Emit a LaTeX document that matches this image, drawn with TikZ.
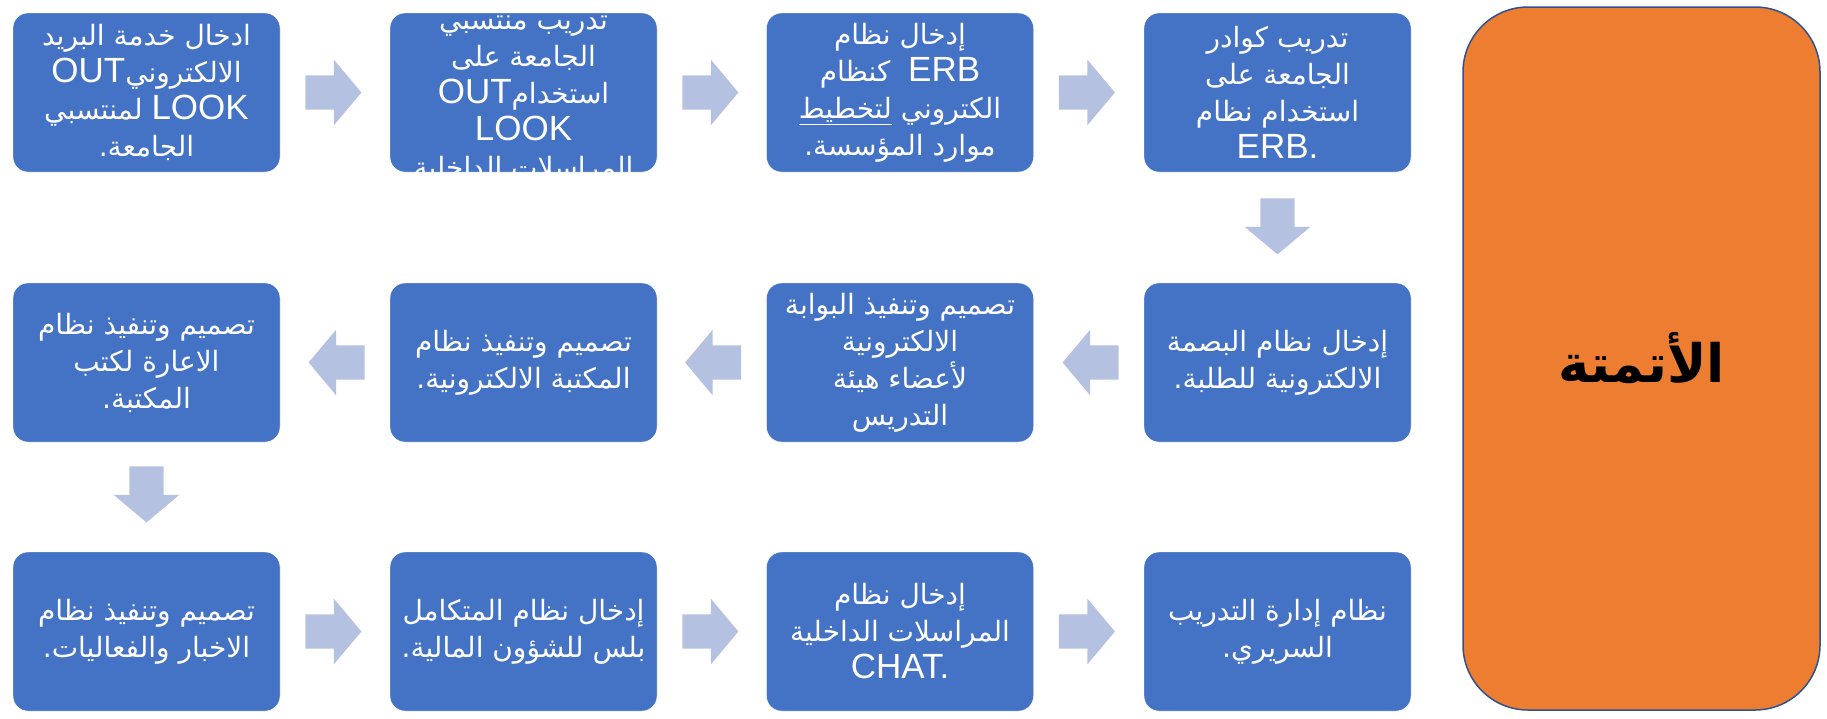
\documentclass[tikz,border=0pt]{standalone}
\usepackage{fontspec}
\setmainfont{Liberation Sans}
\newfontfamily\arabicfont[Script=Arabic]{DejaVu Sans}
\TeXXeTstate=1
\usetikzlibrary{shapes.arrows,calc}

\definecolor{boxblue}{HTML}{4472C4}
\definecolor{arrowblue}{HTML}{B4C1E1}
\definecolor{autoorange}{HTML}{ED7D31}
\definecolor{autoedge}{HTML}{2F528F}

\newcommand{\arl}[1]{{\arabicfont\beginR #1\endR}}
\newcommand{\lat}[1]{{\normalfont\fontsize{35}{37}\selectfont\beginL #1\endL}}

\tikzset{
  tasktext/.style={inner sep=0pt,text=white,align=center,
    font=\fontsize{28}{37}\selectfont},
  taskbox/.style={tasktext,rectangle,rounded corners=15pt,fill=boxblue,
    draw=white,minimum width=267pt,minimum height=159pt},
  flowarrow/.style={single arrow,fill=arrowblue,draw=none,inner xsep=0pt,
    inner ysep=17pt,minimum height=56pt,minimum width=65pt,anchor=tail,
    single arrow head extend=15.5pt,single arrow tip angle=100},
}

\begin{document}
\begin{tikzpicture}[x=1pt,y=-1pt]
\useasboundingbox (0,0) rectangle (1827,718);

% first row, left to right
\node[taskbox] (b1) at (146.5,92.5) {\arl{ادخال خدمة البريد}\\ \arl{الالكتروني\lat{OUT}}\\ \arl{\lat{LOOK} لمنتسبي}\\ \arl{الجامعة.}};
\node[taskbox] (b2) at (523.5,92.5) {};
% text too long for the box, runs over its edges
\node[tasktext] (t2) at ($(b2.center)+(0,8)$) {\arl{تدريب منتسبي}\\ \arl{الجامعة على}\\ \arl{استخدام\lat{OUT}}\\ \lat{LOOK}\\ \arl{المراسلات الداخلية}};
\node[taskbox] (b3) at (900,92.5) {\arl{إدخال نظام}\\ \arl{\lat{ERB}\ \ كنظام}\\ \arl{الكتروني \underline{لتخطيط}}\\ \arl{موارد المؤسسة.}};
\node[taskbox] (b4) at (1277.5,92.5) {\arl{تدريب كوادر}\\ \arl{الجامعة على}\\ \arl{استخدام نظام}\\ \lat{ERB.}};

% second row, right to left
\node[taskbox] (b5) at (1277.5,362.5) {\arl{إدخال نظام البصمة}\\ \arl{الالكترونية للطلبة.}};
\node[taskbox] (b6) at (900,362.5) {\arl{تصميم وتنفيذ البوابة}\\ \arl{الالكترونية}\\ \arl{لأعضاء هيئة}\\ \arl{التدريس}};
\node[taskbox] (b7) at (523.5,362.5) {\arl{تصميم وتنفيذ نظام}\\ \arl{المكتبة الالكترونية.}};
\node[taskbox] (b8) at (146.5,362.5) {\arl{تصميم وتنفيذ نظام}\\ \arl{الاعارة لكتب}\\ \arl{المكتبة.}};

% third row, left to right
\node[taskbox] (b9) at (146.5,631.5) {\arl{تصميم وتنفيذ نظام}\\ \arl{الاخبار والفعاليات.}};
\node[taskbox] (b10) at (523.5,631.5) {\arl{إدخال نظام المتكامل}\\ \arl{بلس للشؤون المالية.}};
\node[taskbox] (b11) at (900,631.5) {\arl{إدخال نظام}\\ \arl{المراسلات الداخلية}\\ \lat{CHAT.}};
\node[taskbox] (b12) at (1277.5,631.5) {\arl{نظام إدارة التدريب}\\ \arl{السريري.}};

% block arrows, tail 25pt off the box they leave
\node[flowarrow] (a1) at ($(b1.east)+(25,0)$) {};
\node[flowarrow] (a2) at ($(b2.east)+(25,0)$) {};
\node[flowarrow] (a3) at ($(b3.east)+(25,0)$) {};
\node[flowarrow,rotate=-90] (a4) at ($(b4.south)+(0,26)$) {};
\node[flowarrow,rotate=180] (a5) at ($(b5.west)+(-25,0)$) {};
\node[flowarrow,rotate=180] (a6) at ($(b6.west)+(-25,0)$) {};
\node[flowarrow,rotate=180] (a7) at ($(b7.west)+(-25,0)$) {};
\node[flowarrow,rotate=-90] (a8) at ($(b8.south)+(0,24)$) {};
\node[flowarrow] (a9) at ($(b9.east)+(25,0)$) {};
\node[flowarrow] (a10) at ($(b10.east)+(25,0)$) {};
\node[flowarrow] (a11) at ($(b11.east)+(25,0)$) {};

% title box
\node[fill=autoorange,draw=autoedge,line width=1.5pt,rounded corners=65pt,
  minimum width=357pt,minimum height=703pt,inner sep=0pt] (auto) at (1641.5,358.5)
  {\arabicfont\bfseries\fontsize{53}{58}\selectfont\beginR الأتمتة\endR};
\end{tikzpicture}
\end{document}
